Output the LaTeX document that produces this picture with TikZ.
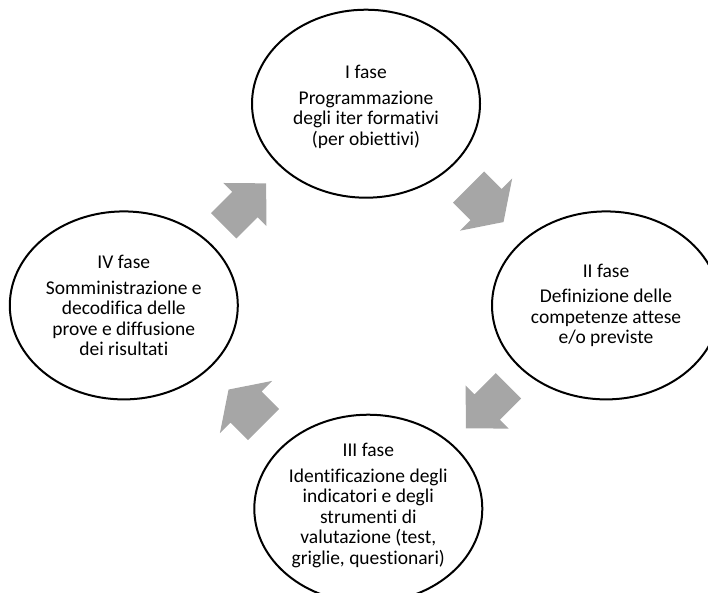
\documentclass[tikz,border=0pt]{standalone}
\usepackage{fontspec}
\setmainfont{Carlito}[Ligatures={NoCommon,NoContextual}]
\usetikzlibrary{shapes.geometric,calc}

\definecolor{arrowgray}{RGB}{166,166,166}

\begin{document}
\begin{tikzpicture}
      [ x=1pt, y=-1pt,
        phase/.style={ellipse, draw=black, line width=2pt,
          minimum width=228pt, minimum height=188pt, inner sep=0pt},
        phasetext/.style={align=center, font=\fontsize{19.5}{20.5}\selectfont},
        blockarrow/.style={fill=arrowgray, draw=none}
      ]
      \useasboundingbox (0,0) rectangle (708,592);
      \clip (0,0) rectangle (708,592);

      \node[phase]      (p1) at (366,103.7)   {};
      \node[phase]      (p2) at (606,305.4)   {};
      \node[phase]      (p3) at (368.3,508.7) {};
      \node[phase]      (p4) at (123.8,305.4) {};

      \node[phasetext]  (t1) at ($(p1.center)+(0,3)$) {I fase\\[5pt] Programmazione\\ degli iter formativi\\ (per obiettivi)};
      \node[phasetext]  (t2) at (p2.center) {II fase\\[5pt] Definizione delle\\ competenze attese\\ e/o previste};
      \node[phasetext]  (t3) at ($(p3.center)+(0,-3)$) {III fase\\[5pt] Identificazione degli\\ indicatori e degli\\ strumenti di\\ valutazione (test,\\ griglie, questionari)};
      \node[phasetext]  (t4) at (p4.center) {IV fase\\[5pt] Somministrazione e\\ decodifica delle\\ prove e diffusione\\ dei risultati};

      % block arrows between the phases
      \fill[blockarrow, shift={($(p4.center)!0.5!(p1.center)$)}, rotate=45]
        (-30,-18) -- (0,-18) -- (0,-30.5) -- (30,0) -- (0,30.5) -- (0,18) -- (-30,18) -- cycle;
      \fill[blockarrow, shift={($(p1.center)!0.5!(p2.center)$)}, rotate=-45]
        (-24.75,-22) -- (0,-22) -- (0,-37) -- (24.75,0) -- (0,37) -- (0,22) -- (-24.75,22) -- cycle;
      \fill[blockarrow, shift={($(p2.center)!0.5!(p3.center)$)}, rotate=-135]
        (-30,-18) -- (0,-18) -- (0,-30.5) -- (30,0) -- (0,30.5) -- (0,18) -- (-30,18) -- cycle;
      \fill[blockarrow, shift={($(p3.center)!0.5!(p4.center)$)}, rotate=135]
        (-24.75,-22) -- (0,-22) -- (0,-37) -- (24.75,0) -- (0,37) -- (0,22) -- (-24.75,22) -- cycle;
\end{tikzpicture}
\end{document}
